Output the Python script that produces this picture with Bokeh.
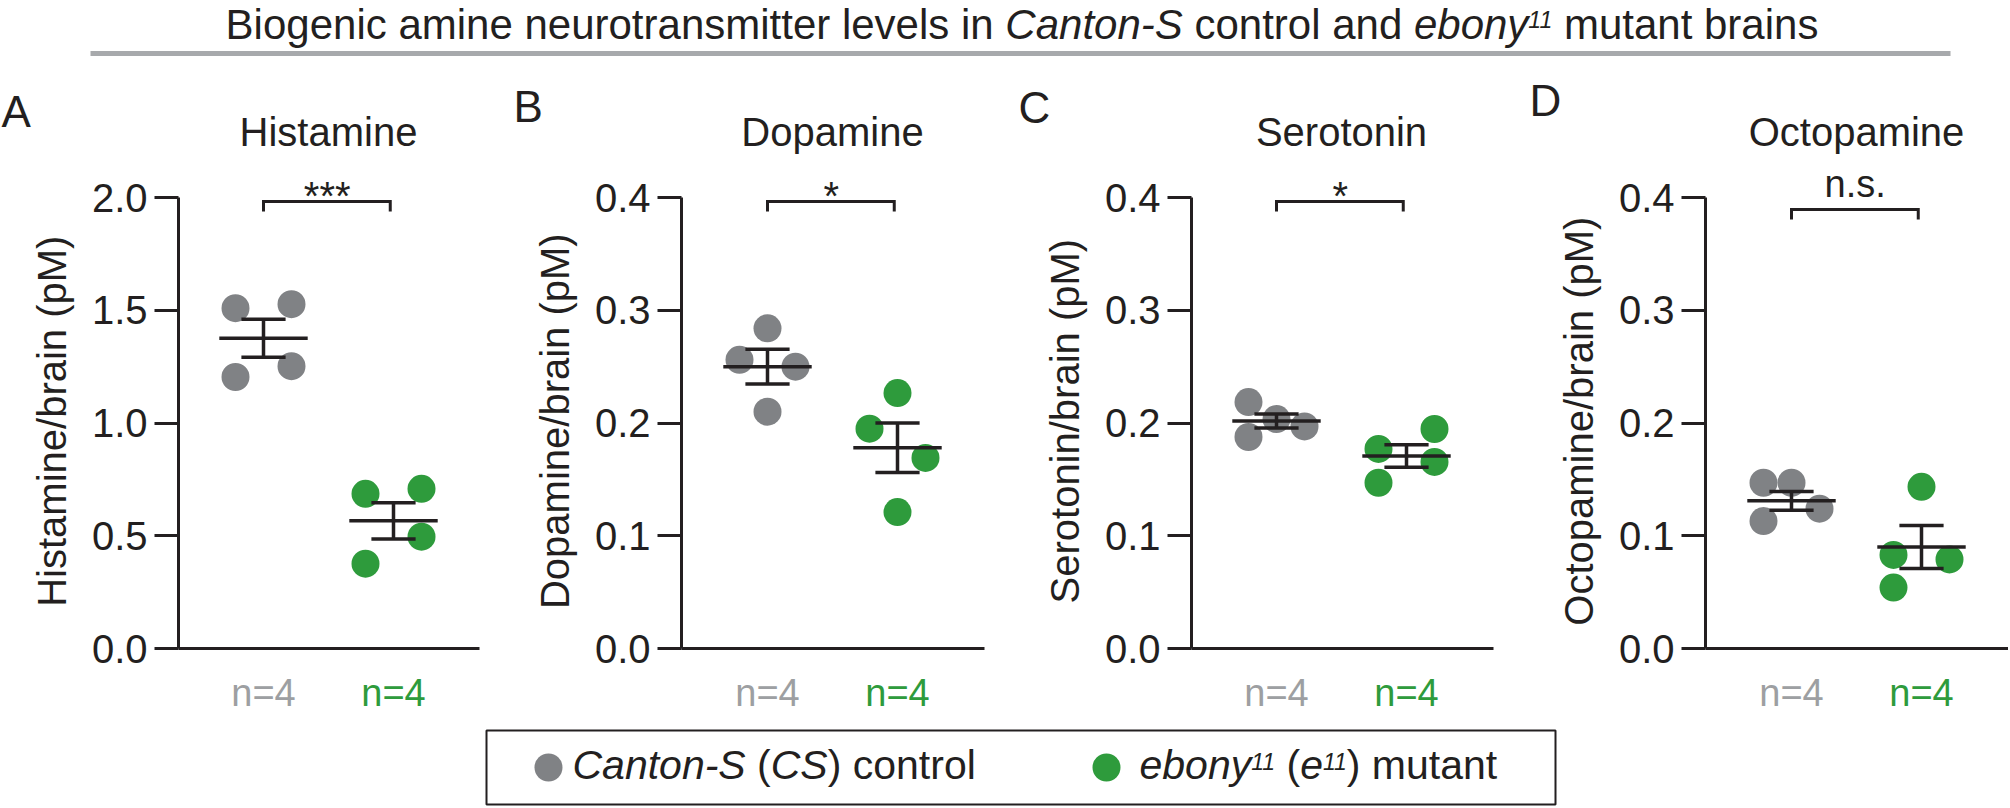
import glob
import subprocess
from bokeh.plotting import figure
from bokeh.models import Range1d, FixedTicker, PrintfTickFormatter
from bokeh.layouts import row, column
from bokeh.embed import file_html
from bokeh.resources import INLINE
from bokeh.core.properties import value

# ---------------- data ----------------
panel_letters = ["A", "B", "C", "D"]
panel_titles = ["Histamine", "Dopamine", "Serotonin", "Octopamine"]
y_labels = ["Histamine/brain (pM)", "Dopamine/brain (pM)",
            "Serotonin/brain (pM)", "Octopamine/brain (pM)"]
y_max = [2.0, 0.4, 0.4, 0.4]
y_ticks = [[0.0, 0.5, 1.0, 1.5, 2.0],
           [0.0, 0.1, 0.2, 0.3, 0.4],
           [0.0, 0.1, 0.2, 0.3, 0.4],
           [0.0, 0.1, 0.2, 0.3, 0.4]]
cs_values = [[1.509, 1.527, 1.252, 1.204],
             [0.284, 0.256, 0.250, 0.210],
             [0.2186, 0.2035, 0.197, 0.1876],
             [0.147, 0.147, 0.124, 0.113]]
e11_values = [[0.686, 0.708, 0.496, 0.376],
              [0.2265, 0.195, 0.169, 0.121],
              [0.1947, 0.177, 0.1655, 0.147],
              [0.1434, 0.083, 0.079, 0.054]]
cs_mean = [1.376, 0.250, 0.2018, 0.131]
cs_sem = [0.084, 0.0155, 0.0062, 0.0083]
e11_mean = [0.566, 0.178, 0.1708, 0.090]
e11_sem = [0.080, 0.022, 0.010, 0.019]
significance = ["***", "*", "*", "n.s."]
n_labels = ["n=4", "n=4"]

# ---------------- layout / style ----------------
cs_jitter = [[-1, 1, 1, -1], [0, -1, 1, 0], [-1, 0, 1, -1], [-1, 0, 1, -1]]
e11_jitter = [[-1, 1, 1, -1], [0, -1, 1, 0], [1, -1, 1, -1], [0, -1, 1, -1]]

FONT = "Liberation Sans"
BLACK = "#231f20"
GRAY = "#808285"
GREEN = "#2e9b3c"
NGRAY = "#9d9fa2"
RULE = "#a7a9ac"

TOTAL_W = 2008
gray_center = [263, 767, 1276, 1791]
frame_left = [178, 681, 1191, 1705]
fig_left = [0, 520, 1030, 1545]
fig_w = [520, 510, 515, 463]
frame_w = [301, 303, 302, 303]
letter_x = [1, 513, 1018, 1529]
letter_base = [126, 121, 122, 115]
bracket_y = [201, 201, 201, 209]
sig_base = [209, 209, 209, 197]
sig_size = [40, 40, 40, 38]
PPU = 130.0
AX_TOP, AX_BOT = 197, 648          # page y of y_max and of 0
HEAD_H = 160                        # header figure: page 0..160
PANEL_TOP, PANEL_BOT = 160, 671     # panel figures
FOOT_TOP, FOOT_BOT = 671, 806       # footer figure
JIT = 28 / PPU
MID = 0.35                          # baseline -> text middle, in em
LABEL_PAD = "\u00a0\u00a0\u00a0"    # centres the axis title on the axis line


def mid(baseline, size):
    return baseline - MID * size


def font_path(style):
    name = "LiberationSans-Italic.ttf" if style == "italic" else "LiberationSans-Regular.ttf"
    for root in ["/usr/share/fonts", "/usr/local/share/fonts", "/usr/share"]:
        hits = glob.glob(root + "/**/" + name, recursive=True)
        if hits:
            return hits[0]
    try:
        q = "Liberation Sans" + (":italic" if style == "italic" else "")
        out = subprocess.run(["fc-match", "-f", "%{file}", q],
                             capture_output=True, text=True).stdout.strip()
        if out:
            return out
    except Exception:
        pass
    return None


_fonts = {}


def text_width(s, size, style):
    key = (style, size)
    if key not in _fonts:
        try:
            from PIL import ImageFont
            pth = font_path(style)
            _fonts[key] = ImageFont.truetype(pth, size) if pth else None
        except Exception:
            _fonts[key] = None
    f = _fonts[key]
    if f is None:
        return 0.52 * size * len(s)
    return f.getlength(s)


def rich_width(segments, size, sup_size):
    return sum(text_width(t, sup_size if sup else size, st) for t, st, sup in segments)


def put_text(p, x, baseline, txt, size, color=BLACK, style="normal", align="left"):
    p.text(x=[x], y=[mid(baseline, size)], text=[txt], text_font=value(FONT),
           text_font_style=style, text_font_size=f"{size}px", text_color=color,
           text_align=align, text_baseline="middle")


def rich_text(p, x0, baseline, segments, size, sup_size, sup_raise, color=BLACK):
    x = x0
    for txt, st, sup in segments:
        fs = sup_size if sup else size
        b = baseline - sup_raise if sup else baseline
        stripped = txt.lstrip(" ")
        x += text_width(txt[:len(txt) - len(stripped)], fs, st)
        put_text(p, x, b, stripped.rstrip(" "), fs, color, st)
        x += text_width(stripped, fs, st)
    return x


def blank_fig(w, h):
    p = figure(width=w, height=h, x_range=Range1d(0, w), y_range=Range1d(h, 0),
               x_axis_location=None, y_axis_location=None, min_border=0,
               output_backend="svg", toolbar_location=None)
    p.xgrid.visible = False
    p.ygrid.visible = False
    p.outline_line_color = None
    return p


# ---------------- header: title, rule, letters, panel titles ----------------
head = blank_fig(TOTAL_W, HEAD_H)
title_segs = [("Biogenic amine neurotransmitter levels in ", "normal", False),
              ("Canton-S", "italic", False),
              (" control and ", "normal", False),
              ("ebony", "italic", False),
              ("11", "italic", True),
              (" mutant brains", "normal", False)]
TS, TSUP = 42, 23
tw = rich_width(title_segs, TS, TSUP)
rich_text(head, 1021.5 - tw / 2, 38.5, title_segs, TS, TSUP, 11)
head.segment(x0=[90], y0=[53], x1=[1950], y1=[53], line_color=RULE, line_width=5)
for i in range(4):
    put_text(head, letter_x[i], letter_base[i], panel_letters[i], 44)
    put_text(head, gray_center[i] + 0.5 * PPU, 145, panel_titles[i], 40, align="center")

# ---------------- panels ----------------
panels = []
for i in range(4):
    lb = frame_left[i] - fig_left[i]
    rb = fig_w[i] - lb - frame_w[i]
    xs = (frame_left[i] - gray_center[i]) / PPU
    xe = xs + frame_w[i] / PPU
    ppy = y_max[i] / (AX_BOT - AX_TOP)
    y_end = (AX_BOT - PANEL_TOP) * ppy
    p = figure(width=fig_w[i], height=PANEL_BOT - PANEL_TOP,
               x_range=Range1d(xs, xe), y_range=Range1d(0, y_end),
               output_backend="svg", toolbar_location=None,
               min_border_left=lb, min_border_right=rb,
               min_border_top=0, min_border_bottom=PANEL_BOT - AX_BOT)
    p.xgrid.visible = False
    p.ygrid.visible = False
    p.outline_line_color = None

    def dy(py, ppy=ppy):
        return (AX_BOT - py) * ppy

    ya = p.yaxis[0]
    ya.bounds = (0, y_max[i])
    ya.ticker = FixedTicker(ticks=y_ticks[i])
    ya.formatter = PrintfTickFormatter(format="%.1f")
    ya.major_tick_out = 24
    ya.major_tick_in = 0
    ya.minor_tick_out = 0
    ya.minor_tick_in = 0
    ya.axis_line_width = 3
    ya.axis_line_color = BLACK
    ya.major_tick_line_width = 3
    ya.major_tick_line_color = BLACK
    ya.major_label_text_font = FONT
    ya.major_label_text_font_size = "40px"
    ya.major_label_text_color = BLACK
    ya.major_label_standoff = 7
    ya.axis_label = y_labels[i] + LABEL_PAD
    ya.axis_label_text_font = FONT
    ya.axis_label_text_font_size = "40px"
    ya.axis_label_text_font_style = "normal"
    ya.axis_label_text_color = BLACK
    ya.axis_label_standoff = 15

    xa = p.xaxis[0]
    xa.ticker = FixedTicker(ticks=[])
    xa.major_label_text_font_size = "0px"
    xa.major_label_standoff = 0
    xa.major_tick_out = 0
    xa.major_tick_in = 0
    xa.minor_tick_out = 0
    xa.minor_tick_in = 0
    xa.axis_line_width = 3
    xa.axis_line_color = BLACK

    # points
    p.scatter(x=[j * JIT for j in cs_jitter[i]], y=cs_values[i], size=28,
              fill_color=GRAY, line_color=None, marker="circle")
    p.scatter(x=[1 + j * JIT for j in e11_jitter[i]], y=e11_values[i], size=28,
              fill_color=GREEN, line_color=None, marker="circle")

    # mean +- SEM
    for g, m, s in [(0, cs_mean[i], cs_sem[i]), (1, e11_mean[i], e11_sem[i])]:
        p.segment(x0=[g - 0.34, g - 0.17, g - 0.17, g], y0=[m, m + s, m - s, m - s],
                  x1=[g + 0.34, g + 0.17, g + 0.17, g], y1=[m, m + s, m - s, m + s],
                  line_color=BLACK, line_width=3.5)

    # significance bracket and label
    yb = dy(bracket_y[i])
    yd = dy(bracket_y[i] + 10)
    p.line(x=[0, 0, 0.975, 0.975], y=[yd, yb, yb, yd], line_color=BLACK,
           line_width=3, line_join="miter")
    p.text(x=[0.49], y=[dy(mid(sig_base[i], sig_size[i]))], text=[significance[i]],
           text_font=value(FONT), text_font_size=f"{sig_size[i]}px",
           text_color=BLACK, text_align="center", text_baseline="middle")
    panels.append(p)

# ---------------- footer: n labels and legend ----------------
FH = FOOT_BOT - FOOT_TOP
foot = blank_fig(TOTAL_W, FH)
for i in range(4):
    for g, col in [(0, NGRAY), (1, GREEN)]:
        put_text(foot, gray_center[i] + g * PPU, 706 - FOOT_TOP, n_labels[g], 38,
                 color=col, align="center")
foot.quad(left=[486], right=[1555], top=[730 - FOOT_TOP], bottom=[804 - FOOT_TOP],
          fill_color=None, line_color=BLACK, line_width=2)
foot.scatter(x=[548, 1106], y=[767 - FOOT_TOP] * 2, size=28, fill_color=[GRAY, GREEN],
             line_color=None, marker="circle")
leg_cs = [("Canton-S", "italic", False), (" (", "normal", False),
          ("CS", "italic", False), (") control", "normal", False)]
leg_e = [("ebony", "italic", False), ("11", "italic", True), (" (", "normal", False),
         ("e", "italic", False), ("11", "italic", True), (") mutant", "normal", False)]
rich_text(foot, 572, 779 - FOOT_TOP, leg_cs, 41, 23, 10)
rich_text(foot, 1139, 779 - FOOT_TOP, leg_e, 41, 23, 10)

layout = column(head, row(*panels), foot)
open("out.html", "w").write(file_html(layout, INLINE))
